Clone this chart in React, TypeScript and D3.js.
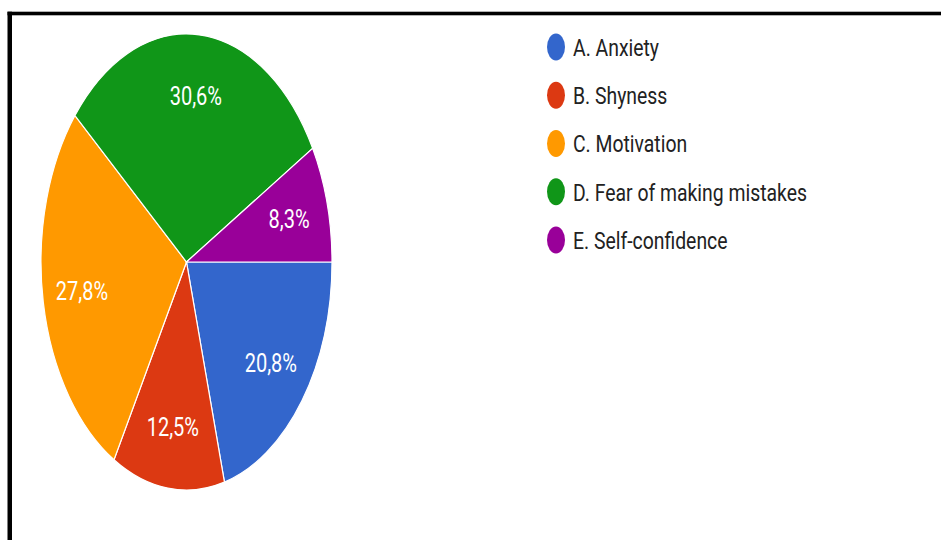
import React from "react";
import * as d3 from "d3";

const categories = [
  "A. Anxiety",
  "B. Shyness",
  "C. Motivation",
  "D. Fear of making mistakes",
  "E. Self-confidence",
];
const values = [20.8, 12.5, 27.8, 30.6, 8.3];
const valueLabels = ["20,8%", "12,5%", "27,8%", "30,6%", "8,3%"];
const colors = ["#3366cc", "#dc3912", "#ff9900", "#109618", "#990099"];

export default function App() {
  const W = 941;
  const H = 540;
  const cx = 186.5;
  const cy = 262;
  const rx = 145.5;
  const ry = 228;
  const sy = ry / rx;
  const textScale = 1.28;

  const pie = d3
    .pie<number>()
    .sort(null)
    .startAngle(Math.PI / 2)
    .endAngle(Math.PI / 2 + 2 * Math.PI);
  const arcs = pie(values);
  const arc = d3.arc<d3.PieArcDatum<number>>().innerRadius(0).outerRadius(rx);

  const legendY = d3.scalePoint<string>().domain(categories).range([47, 240]);

  return (
    <div style={{ position: "absolute", left: 0, top: 0, width: W, height: H, background: "#fff" }}>
      <svg width={W} height={H} style={{ display: "block" }}>
        <rect x={0} y={0} width={W} height={H} fill="#fff" />
        <g transform={`translate(${cx},${cy}) scale(1,${sy})`}>
          {arcs.map((a, i) => (
            <path
              key={i}
              d={arc(a) || ""}
              fill={colors[i]}
              stroke="#fff"
              strokeWidth={1.2}
              vectorEffect="non-scaling-stroke"
            />
          ))}
        </g>
        {arcs.map((a, i) => {
          const m = (a.startAngle + a.endAngle) / 2;
          const k = 0.73;
          const x = cx + Math.sin(m) * rx * k;
          const y = cy - Math.cos(m) * ry * k;
          return (
            <text
              key={i}
              transform={`translate(${x},${y}) scale(1,${textScale})`}
              textAnchor="middle"
              dy="0.36em"
              fontFamily="Roboto, Arial, sans-serif"
              fontSize={20}
              fill="#fff"
            >
              {valueLabels[i]}
            </text>
          );
        })}
        {categories.map((c, i) => {
          const y = legendY(c) as number;
          return (
            <g key={c}>
              <ellipse cx={556} cy={y} rx={9} ry={13.5} fill={colors[i]} />
              <text
                transform={`translate(573,${y}) scale(1,${textScale})`}
                dy="0.36em"
                fontFamily="Roboto, Arial, sans-serif"
                fontSize={19.4}
                fill="#222"
              >
                {c}
              </text>
            </g>
          );
        })}
        <rect x={7.5} y={11.7} width={4.5} height={H} fill="#000" />
        <rect x={7.5} y={11.7} width={W} height={3.6} fill="#000" />
      </svg>
    </div>
  );
}
